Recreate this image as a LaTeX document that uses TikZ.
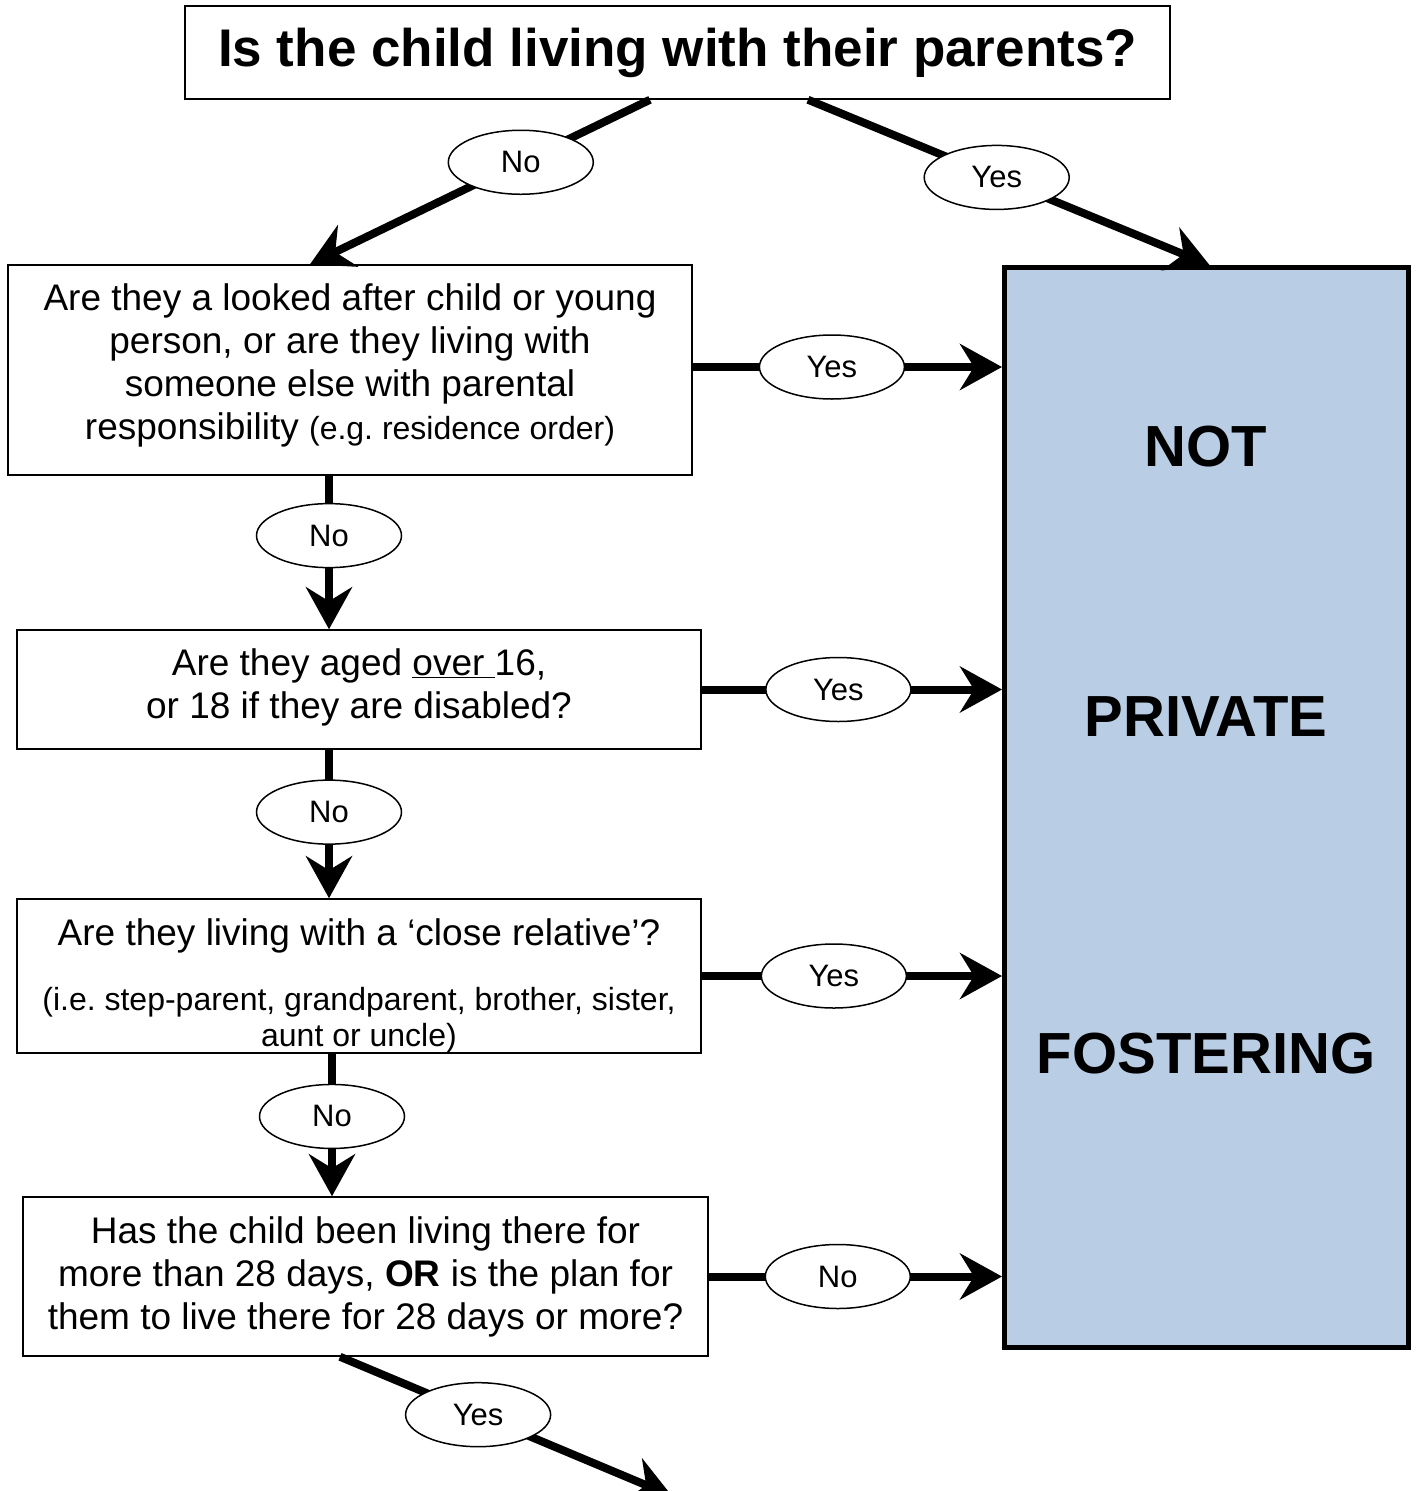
\documentclass[tikz,border=0pt]{standalone}
\usepackage{fontspec}
\setmainfont{Liberation Sans}
\usetikzlibrary{arrows.meta,shapes.geometric,positioning}
\definecolor{pfblue}{HTML}{B9CDE5}
\tikzset{
  title/.style={draw, line width=1.5pt, fill=white, inner sep=0pt, minimum width=985pt, minimum height=93pt, font=\fontsize{53}{60}\bfseries\selectfont},
  qbox/.style={draw, line width=1.5pt, fill=white, inner sep=0pt, align=flush center, text width=670pt, font=\fontsize{37}{43}\selectfont,
    execute at begin node={\frenchspacing}},
  answer/.style={ellipse, draw, line width=1.5pt, fill=white, minimum width=145pt, minimum height=64pt, inner sep=0pt, font=\fontsize{31}{36}\selectfont},
  result/.style={draw, line width=5pt, fill=pfblue, minimum width=404pt, minimum height=1080pt},
  big/.style={font=\fontsize{58}{66}\bfseries\selectfont}
}

\begin{document}
\begin{tikzpicture}[x=1pt,y=-1pt,>={Stealth[length=42pt,width=46pt,inset=14pt]},line width=8pt]
		\useasboundingbox (0,0) rectangle (1421,1491);
		\node[title]                                          (Q_0) at (677.5,52.5) {Is the child living with their parents?};
		\node[qbox, minimum width=684pt, minimum height=210pt] (Q_1) at (350,370) {Are they a looked after child or young\\ person, or are they living with\\ someone else with parental\\ responsibility {\fontsize{32}{43}\selectfont (e.g. residence order)}\rule[-16pt]{0pt}{16pt}};
		\node[qbox, minimum width=684pt, minimum height=119pt] (Q_2) at (359,689.5) {Are they aged \underline{over\ }16,\\ or 18 if they are disabled?\rule[-12pt]{0pt}{12pt}};
		\node[qbox, minimum width=684pt, minimum height=154pt] (Q_3) at (359,976) {\rule{0pt}{46pt}Are they living with a ‘close relative’?\par\vspace{29pt}\fontsize{32}{36}\selectfont (i.e. step-parent, grandparent, brother, sister,\\ aunt or uncle)\par};
		\node[qbox, minimum width=685pt, minimum height=159pt] (Q_4) at (365.5,1276.5) {Has the child been living there for\\ more than 28 days, \textbf{OR} is the plan for\\ them to live there for 28 days or more?};
		\node[result]                                         (R_1) at (1206.5,807.5) {};
		\node[big] (T_1) at (1206,447) {NOT};
		\node[big] (T_2) at (1206,717) {PRIVATE};
		\node[big] (T_3) at (1206,1054) {FOSTERING};
		\coordinate (E_1) at (672,1496);
		
		\path[->] ([xshift=-27.5pt]Q_0.south) edge node[answer, pos=0.38] {No} ([xshift=-40pt]Q_1.north)
		([xshift=130.5pt]Q_0.south) edge node[answer, pos=0.47] {Yes} ([xshift=3pt]R_1.north)
		([yshift=3pt]Q_1.east) edge node[answer, pos=0.45] {Yes} ([yshift=3pt]Q_1.east -| R_1.west)
		(Q_2.east) edge node[answer, pos=0.455] {Yes} (Q_2.east -| R_1.west)
		(Q_3.east) edge node[answer, pos=0.44] {Yes} (Q_3.east -| R_1.west)
		(Q_4.east) edge node[answer, pos=0.44] {No} (Q_4.east -| R_1.west)
		([xshift=-21pt]Q_1.south) edge node[answer, pos=0.39] {No} ([xshift=-30pt]Q_2.north)
		([xshift=-30pt]Q_2.south) edge node[answer, pos=0.42] {No} ([xshift=-30pt]Q_3.north)
		([xshift=-27pt]Q_3.south) edge node[answer, pos=0.44] {No} ([xshift=-33.5pt]Q_4.north)
		([xshift=-25.5pt]Q_4.south) edge node[answer, pos=0.416] {Yes} (E_1);
	\end{tikzpicture}
\end{document}
